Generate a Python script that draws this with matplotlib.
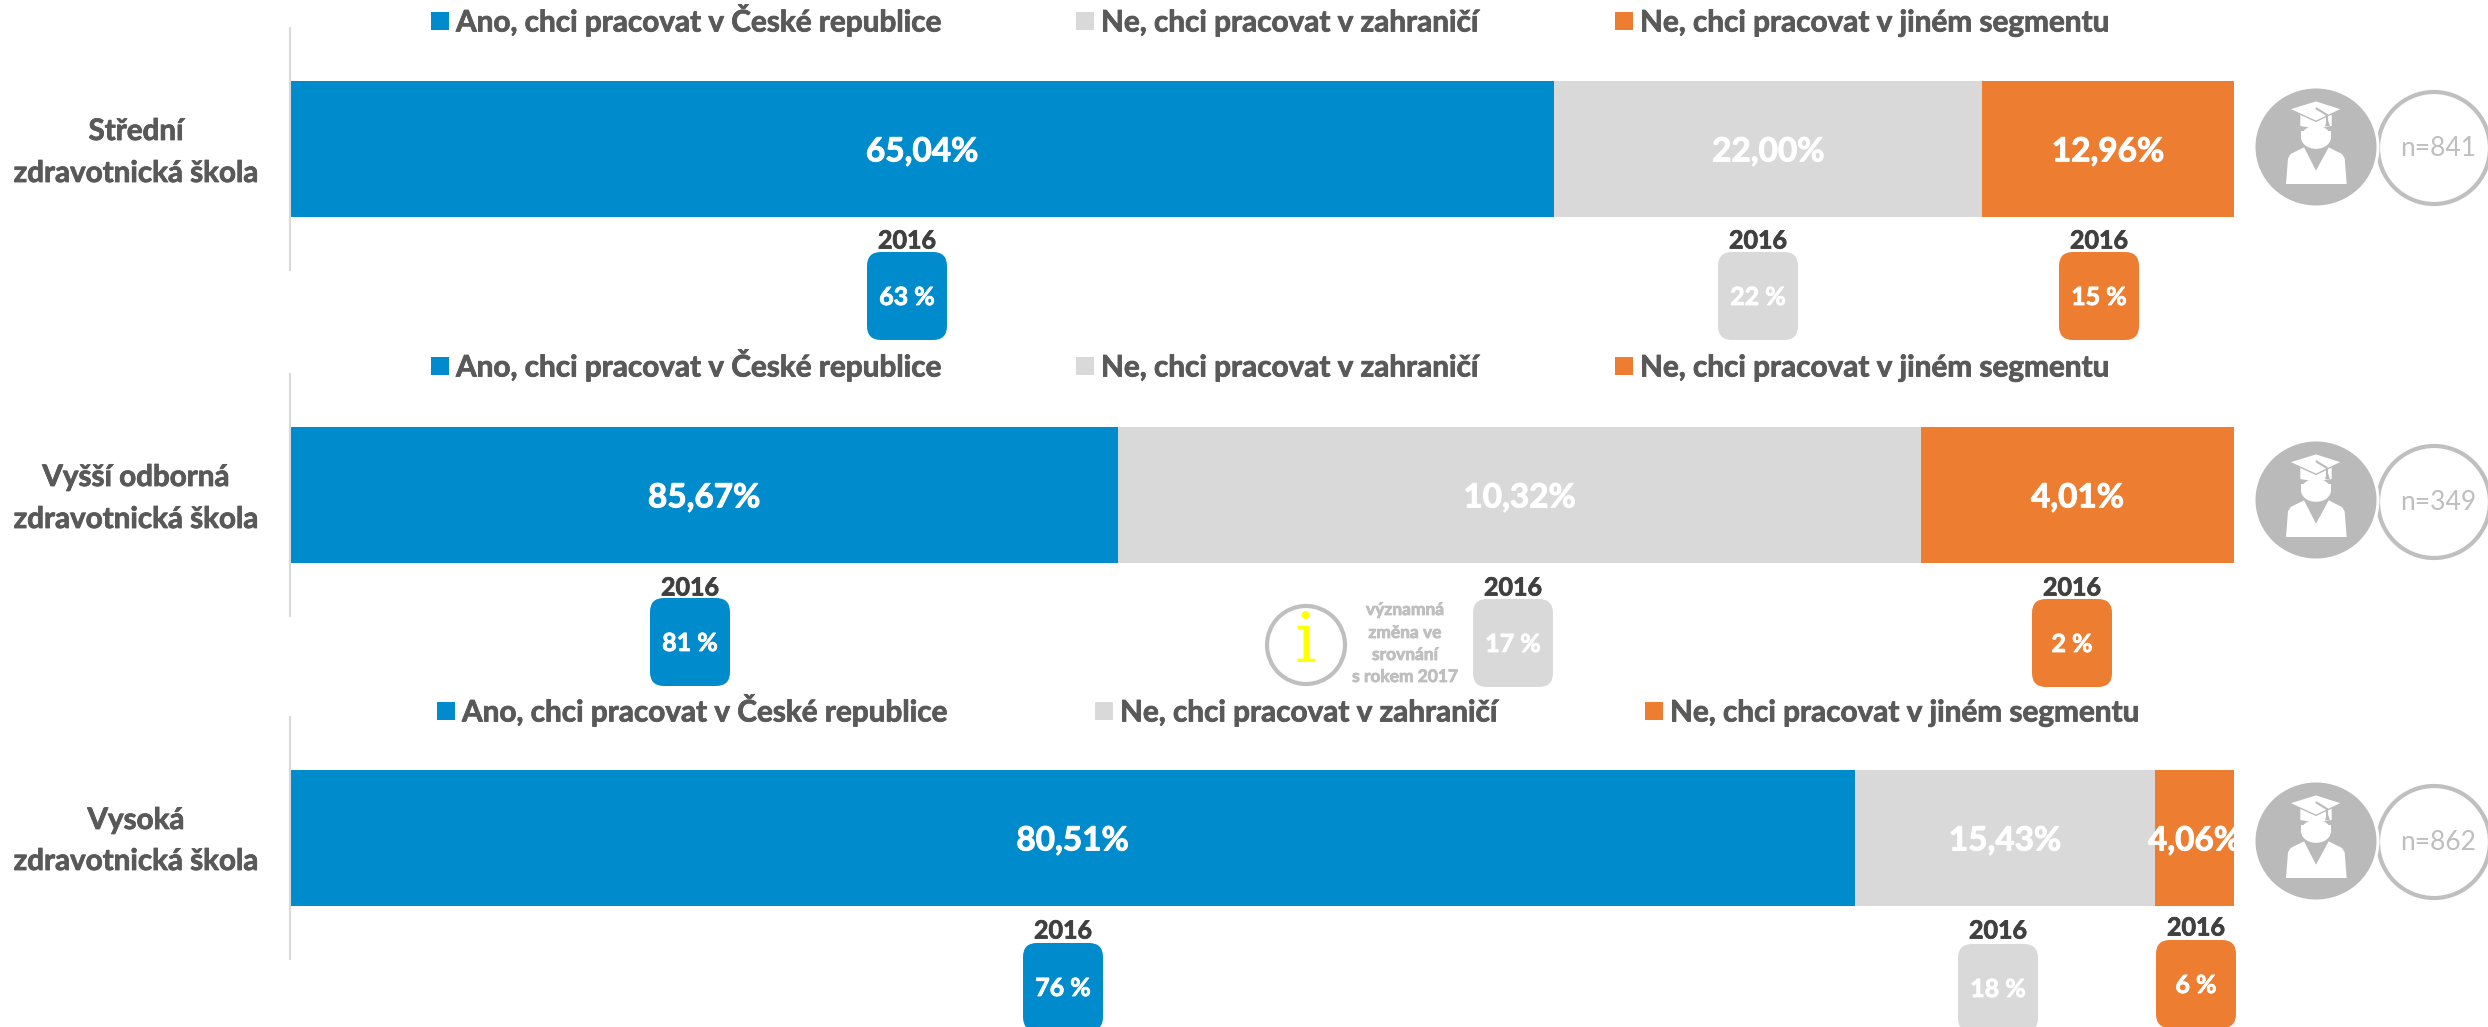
import matplotlib
matplotlib.use('Agg')
import matplotlib.pyplot as plt
import matplotlib.patheffects as pe
from matplotlib.patches import Circle, Ellipse, FancyBboxPatch, Polygon, Rectangle

plt.rcParams['font.family'] = ['Lato', 'DejaVu Sans']

# data
categories = ['Střední\nzdravotnická škola', 'Vyšší odborná\nzdravotnická škola', 'Vysoká\nzdravotnická škola']
series_names = ['Ano, chci pracovat v České republice', 'Ne, chci pracovat v zahraničí', 'Ne, chci pracovat v jiném segmentu']
ano = [65.04, 42.6, 80.51]        # druhý pruh je v originále nakreslen jinak, než říká popisek
zahranici = [22.00, 41.3, 15.43]
jiny = [12.96, 16.1, 4.06]
ano_labels = ['65,04%', '85,67%', '80,51%']
zahranici_labels = ['22,00%', '10,32%', '15,43%']
jiny_labels = ['12,96%', '4,01%', '4,06%']
ano_2016 = [63, 81, 76]
zahranici_2016 = [22, 17, 18]
jiny_2016 = [15, 2, 6]
respondents = [841, 349, 862]

# layout in pixels of the final picture
W, H = 2488, 1027
BLUE, GREY, ORANGE = '#008BCD', '#D9D9D9', '#ED7D31'
ICON = '#BABABA'
colors = [BLUE, GREY, ORANGE]
axis_tops = [28, 374, 717]
axis_h = 242
bar_l, bar_w = 290, 1944
legend_y = [21, 366, 711]
legend_x = [[431, 1076, 1615], [431, 1076, 1615], [437, 1095, 1645]]
label_y = [[131, 173], [477, 519], [820, 861]]
box_x = [[907, 1758, 2099], [690, 1513, 2072], [1063, 1998, 2196]]
box_y = [[296, 296, 296], [642, 643, 643], [987, 988, 984]]
year_y = [[241, 241, 241], [588, 588, 588], [931, 931, 928]]
icon_y = [147, 500, 841]
ring_y = [148, 502, 842]

bold = [pe.withStroke(linewidth=0.7, foreground='white')]

fig = plt.figure(figsize=(W / 100, H / 100), dpi=100)

for i in range(3):
    ax = fig.add_axes([bar_l / W, 1 - (axis_tops[i] + axis_h) / H, bar_w / W, axis_h / H])
    left = 0
    vals = [ano[i], zahranici[i], jiny[i]]
    labs = [ano_labels[i], zahranici_labels[i], jiny_labels[i]]
    for v, lab, c in zip(vals, labs, colors):
        ax.barh(0, v, left=left, height=0.558, color=c)
        ax.text(left + v / 2, -0.012, lab, color='white', fontsize=24, fontweight='bold',
                ha='center', va='center', clip_on=False, path_effects=bold)
        left += v
    ax.set_xlim(0, 100)
    ax.set_ylim(-0.5, 0.5)
    ax.set_xticks([])
    ax.set_yticks([])
    for s in ['top', 'right', 'bottom']:
        ax.spines[s].set_visible(False)
    ax.spines['left'].set_color('#D9D9D9')
    ax.spines['left'].set_linewidth(1.5)
    ax.patch.set_alpha(0)

# overlay for everything outside the bars
ov = fig.add_axes([0, 0, 1, 1], zorder=5)
ov.set_xlim(0, W)
ov.set_ylim(H, 0)
ov.axis('off')


def dark_text(x, y, s, size, col):
    ov.text(x, y, s, ha='center', va='center', fontsize=size, fontweight='bold', color=col,
            path_effects=[pe.withStroke(linewidth=0.6, foreground=col)])


def draw_icon(cx, cy):
    def pts(lst):
        return [(cx + (x - 498) / 3, cy + (y - 261) / 3) for x, y in lst]
    # white halo cuts the ring next to it
    ov.add_patch(Ellipse((cx, cy), 127, 123, color='white', lw=0))
    ov.add_patch(Ellipse((cx, cy), 121, 117, color=ICON, lw=0))
    # body
    ov.add_patch(Polygon(pts([(408, 372), (414, 295), (422, 282), (462, 262), (498, 332), (536, 262),
                              (576, 282), (584, 295), (590, 372)]), closed=True, color='white', lw=0))
    # face
    ov.add_patch(Ellipse((cx, cy + (232 - 261) / 3), 30, 23, color='white', lw=0))
    ov.add_patch(Rectangle((cx - 15, cy + (212 - 261) / 3), 30, 7, color='white', lw=0))
    # band and cap
    ov.add_patch(Polygon(pts([(451, 160), (545, 160), (545, 198), (498, 206), (451, 198)]),
                         closed=True, color='white', lw=0))
    ov.add_patch(Polygon(pts([(417, 147), (498, 122), (576, 147), (498, 184)]),
                         closed=True, facecolor='white', edgecolor=ICON, lw=1))
    # tassel
    ov.plot(*zip(*pts([(500, 146), (531, 165), (531, 185)])), color=ICON, lw=1.5)
    ov.add_patch(Polygon(pts([(525, 199), (532, 175), (540, 199)]), closed=True, color=ICON, lw=0))


for i in range(3):
    # category label
    for line, y in zip(categories[i].split('\n'), label_y[i]):
        dark_text(136, y, line, 21.3, '#595959')
    # legend
    for x, name, c in zip(legend_x[i], series_names, colors):
        ov.add_patch(Rectangle((x, legend_y[i] - 9), 18, 18, color=c, lw=0))
        ov.text(x + 25, legend_y[i] + 10.5, name, ha='left', va='baseline', fontsize=21.4, fontweight='bold',
                color='#595959', path_effects=[pe.withStroke(linewidth=0.6, foreground='#595959')])
    # 2016 boxes
    vals = [ano_2016[i], zahranici_2016[i], jiny_2016[i]]
    for j in range(3):
        bx, by = box_x[i][j], box_y[i][j]
        ov.add_patch(FancyBboxPatch((bx - 40 + 14, by - 44 + 14), 80 - 28, 88 - 28,
                                    boxstyle='round,pad=14,rounding_size=14',
                                    color=colors[j], lw=0))
        dark_text(bx, by + 1.5, f'{vals[j]} %', 18, 'white')
        dark_text(bx, year_y[i][j], '2016', 18, '#404040')
    # icons
    ov.add_patch(Ellipse((2434, ring_y[i]), 112, 112, facecolor='white', edgecolor='#BFBFBF', lw=3))
    draw_icon(2316, icon_y[i])
    ov.text(2438, ring_y[i], f'n={respondents[i]}', ha='center', va='center', fontsize=19, color='#BFBFBF')

# info note
ov.add_patch(Circle((1306, 645), 39, facecolor='white', edgecolor='#BFBFBF', lw=3))
ov.text(1306, 643, 'i', ha='center', va='center', fontsize=50,
        family=['DejaVu Serif'], color='#FFFF00')
for line, y in zip(['významná', 'změna ve', 'srovnání', 's rokem 2017'], [610, 633, 655, 677]):
    dark_text(1405, y, line, 12.5, '#BFBFBF')

fig.savefig('out.png', dpi=100)
